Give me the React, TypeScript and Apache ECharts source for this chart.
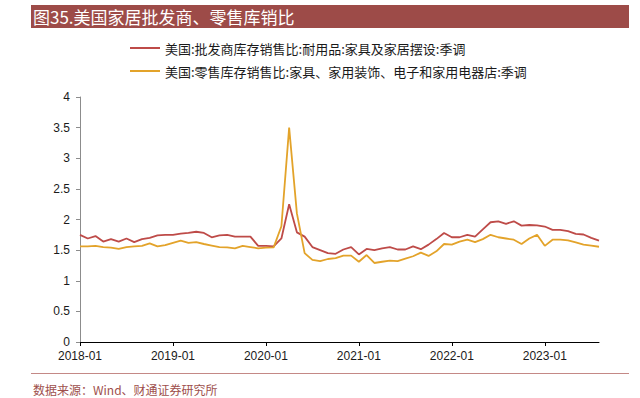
import React, { useEffect, useRef } from "react";
import * as echarts from "echarts";

const titleText = "图35.美国家居批发商、零售库销比";
const sourceText = "数据来源：Wind、财通证券研究所";

const seriesNames = [
  "美国:批发商库存销售比:耐用品:家具及家居摆设:季调",
  "美国:零售库存销售比:家具、家用装饰、电子和家用电器店:季调",
];

const categories = [
  "2018-01", "2018-02", "2018-03", "2018-04", "2018-05", "2018-06", "2018-07", "2018-08", "2018-09", "2018-10", "2018-11", "2018-12",
  "2019-01", "2019-02", "2019-03", "2019-04", "2019-05", "2019-06", "2019-07", "2019-08", "2019-09", "2019-10", "2019-11", "2019-12",
  "2020-01", "2020-02", "2020-03", "2020-04", "2020-05", "2020-06", "2020-07", "2020-08", "2020-09", "2020-10", "2020-11", "2020-12",
  "2021-01", "2021-02", "2021-03", "2021-04", "2021-05", "2021-06", "2021-07", "2021-08", "2021-09", "2021-10", "2021-11", "2021-12",
  "2022-01", "2022-02", "2022-03", "2022-04", "2022-05", "2022-06", "2022-07", "2022-08", "2022-09", "2022-10", "2022-11", "2022-12",
  "2023-01", "2023-02", "2023-03", "2023-04", "2023-05", "2023-06", "2023-07", "2023-08",
];

const wholesaleRatio = [
  1.75, 1.69, 1.73, 1.64, 1.68, 1.64, 1.69, 1.63, 1.68, 1.70, 1.74, 1.75,
  1.75, 1.77, 1.78, 1.80, 1.78, 1.71, 1.74, 1.75, 1.72, 1.72, 1.72, 1.57,
  1.57, 1.56, 1.69, 2.25, 1.79, 1.72, 1.55, 1.50, 1.45, 1.44, 1.51, 1.55,
  1.43, 1.52, 1.50, 1.53, 1.55, 1.51, 1.51, 1.56, 1.515, 1.59, 1.68, 1.78,
  1.71, 1.71, 1.75, 1.72, 1.84, 1.955, 1.97, 1.93, 1.97, 1.90, 1.91, 1.905,
  1.885, 1.83, 1.83, 1.81, 1.765, 1.755, 1.70, 1.655,
];

const retailRatio = [
  1.56, 1.56, 1.57, 1.55, 1.54, 1.52, 1.55, 1.56, 1.57, 1.61, 1.56, 1.58,
  1.62, 1.655, 1.62, 1.63, 1.60, 1.575, 1.55, 1.545, 1.53, 1.57, 1.55, 1.53,
  1.54, 1.545, 1.89, 3.50, 2.10, 1.45, 1.34, 1.32, 1.355, 1.37, 1.41, 1.41,
  1.31, 1.42, 1.29, 1.31, 1.33, 1.32, 1.36, 1.40, 1.46, 1.405, 1.48, 1.60,
  1.59, 1.64, 1.67, 1.63, 1.68, 1.75, 1.71, 1.69, 1.67, 1.60, 1.69, 1.75,
  1.57, 1.67, 1.67, 1.66, 1.625, 1.59, 1.575, 1.555,
];

const RED = "#BE4B48";
const GOLD = "#E3A32A";
const BRAND = "#9D4B48";
const CJK = '"Noto Sans CJK SC", "Noto Sans", sans-serif';
const NUM = '"Liberation Sans", Arial, sans-serif';

export default function App() {
  const ref = useRef<HTMLDivElement>(null);

  useEffect(() => {
    if (!ref.current) return;
    const chart = echarts.init(ref.current, null, { renderer: "svg" });
    const yearTick = (i: number) => i % 12 === 0;
    const legendText = { fontFamily: CJK, fontSize: 13, color: "#1a1a1a", lineHeight: 14 };
    chart.setOption({
      animation: false,
      backgroundColor: "#ffffff",
      grid: { left: 80, top: 97, width: 519, height: 245 },
      legend: [
        {
          data: [seriesNames[0]],
          left: 130,
          top: 41,
          padding: 0,
          icon: "rect",
          itemWidth: 30,
          itemHeight: 2,
          itemGap: 5,
          textStyle: legendText,
        },
        {
          data: [seriesNames[1]],
          left: 130,
          top: 64,
          padding: 0,
          icon: "rect",
          itemWidth: 30,
          itemHeight: 2,
          itemGap: 5,
          textStyle: legendText,
        },
      ],
      xAxis: {
        type: "category",
        data: categories,
        boundaryGap: false,
        axisLine: { lineStyle: { color: "#000000", width: 1 } },
        axisTick: { interval: yearTick, length: 4, lineStyle: { color: "#000000" } },
        axisLabel: {
          interval: yearTick,
          margin: 8,
          fontFamily: NUM,
          fontSize: 12,
          color: "#1a1a1a",
        },
        splitLine: { show: false },
      },
      yAxis: {
        type: "value",
        min: 0,
        max: 4,
        interval: 0.5,
        axisLine: { show: true, lineStyle: { color: "#8c8c8c", width: 1 } },
        axisTick: { show: true, length: 4, lineStyle: { color: "#8c8c8c" } },
        axisLabel: { margin: 10, fontFamily: NUM, fontSize: 12, color: "#1a1a1a" },
        splitLine: { show: false },
      },
      series: [
        {
          name: seriesNames[0],
          type: "line",
          data: wholesaleRatio,
          showSymbol: false,
          symbol: "none",
          color: RED,
          lineStyle: { color: RED, width: 1.8 },
        },
        {
          name: seriesNames[1],
          type: "line",
          data: retailRatio,
          showSymbol: false,
          symbol: "none",
          color: GOLD,
          lineStyle: { color: GOLD, width: 1.8 },
        },
      ],
      graphic: [
        {
          type: "rect",
          shape: { x: 31, y: 5, width: 598, height: 23 },
          style: { fill: BRAND },
          silent: true,
        },
        {
          type: "text",
          x: 33,
          y: 16.5,
          style: {
            text: titleText,
            fill: "#ffffff",
            font: `17px ${CJK}`,
            verticalAlign: "middle",
          },
          silent: true,
        },
        {
          type: "line",
          shape: { x1: 31, y1: 373.5, x2: 629, y2: 373.5 },
          style: { stroke: "#C48986", lineWidth: 1 },
          silent: true,
        },
        {
          type: "text",
          x: 33,
          y: 389,
          style: {
            text: sourceText,
            fill: "#9E4F4C",
            font: `12px ${CJK}`,
            verticalAlign: "middle",
          },
          silent: true,
        },
      ],
    });
    return () => chart.dispose();
  }, []);

  return (
    <div
      ref={ref}
      style={{ position: "absolute", left: 0, top: 0, width: 640, height: 398 }}
    />
  );
}
